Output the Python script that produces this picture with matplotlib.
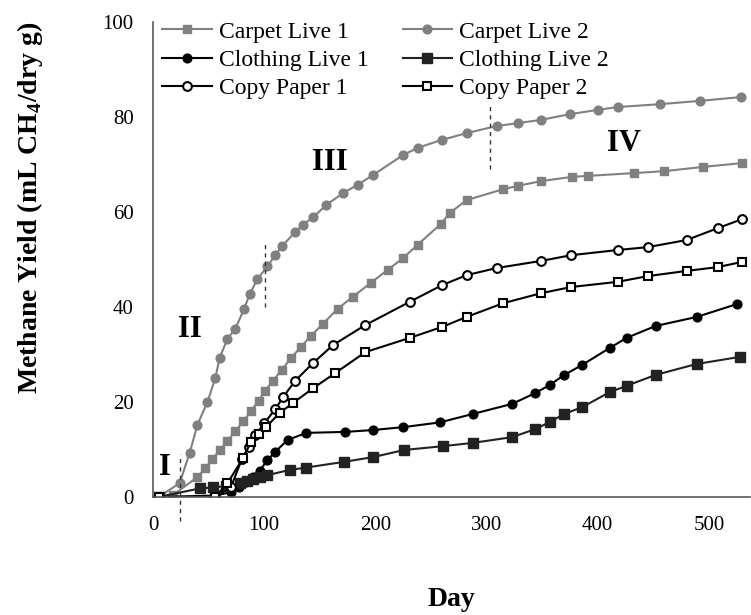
import matplotlib
matplotlib.use("Agg")
import matplotlib.pyplot as plt

OUTPUT_IMAGE_FILE = "out.png"

# Sampling days and cumulative methane yield (mL CH4 / dry g) per reactor
carpet1_day = [5, 18, 40, 47, 53, 60, 67, 74, 81, 88, 95, 101, 108, 116, 124, 133, 142, 153, 166,
               180, 196, 211, 225, 238, 259, 267, 282, 315, 328, 349, 377, 391, 433, 460, 495, 530]
carpet1_val = [0, 0.4, 4.2, 6.0, 7.9, 9.8, 11.8, 13.8, 15.9, 18.0, 20.3, 22.4, 24.5, 26.8, 29.2, 31.6,
               33.9, 36.5, 39.6, 42.2, 45.1, 47.8, 50.3, 53.1, 57.5, 59.8, 62.5, 64.8, 65.5, 66.5,
               67.4, 67.6, 68.2, 68.6, 69.5, 70.3]

carpet2_day = [5, 24, 33, 40, 49, 56, 60, 67, 74, 82, 87, 94, 103, 110, 116, 128, 135, 144, 156, 171,
               184, 198, 225, 238, 260, 282, 309, 328, 349, 375, 400, 418, 456, 492, 529]
carpet2_val = [0, 2.9, 9.3, 15.2, 20.0, 25.0, 29.3, 33.3, 35.4, 39.6, 42.7, 45.9, 48.6, 50.9, 52.8,
               55.8, 57.3, 58.9, 61.5, 64.0, 65.7, 67.8, 72.0, 73.5, 75.2, 76.6, 78.1, 78.7, 79.4,
               80.6, 81.5, 82.1, 82.7, 83.4, 84.2]

clothing1_day = [5, 56, 70, 77, 84, 90, 96, 103, 110, 121, 138, 173, 198, 225, 258, 288, 323, 344,
                 357, 370, 386, 411, 426, 452, 489, 525]
clothing1_val = [0, 0.3, 1.0, 2.2, 3.2, 4.2, 5.5, 7.8, 9.5, 12.0, 13.5, 13.7, 14.1, 14.7, 15.7, 17.5,
                 19.6, 21.9, 23.6, 25.7, 27.8, 31.4, 33.5, 36.0, 37.9, 40.6]

clothing2_day = [5, 42, 54, 66, 78, 85, 90, 96, 103, 123, 138, 172, 198, 226, 261, 288, 323, 344,
                 357, 370, 386, 411, 426, 452, 489, 528]
clothing2_val = [0, 1.8, 2.0, 2.3, 3.0, 3.4, 3.8, 4.2, 4.6, 5.7, 6.2, 7.4, 8.4, 9.9, 10.7, 11.4,
                 12.6, 14.3, 15.8, 17.5, 18.9, 22.1, 23.4, 25.7, 28.0, 29.5]

paper1_day = [5, 56, 70, 80, 86, 92, 100, 110, 117, 128, 144, 162, 191, 231, 260, 282, 309, 349,
              376, 418, 445, 480, 508, 530]
paper1_val = [0, 0, 2.0, 8.0, 10.5, 13.0, 15.5, 18.5, 21.0, 24.5, 28.2, 32.0, 36.2, 41.1, 44.6,
              46.7, 48.2, 49.7, 50.9, 52.0, 52.6, 54.1, 56.6, 58.5]

paper2_day = [5, 56, 67, 81, 88, 95, 102, 114, 126, 144, 164, 191, 231, 260, 282, 315, 349, 376,
              418, 445, 480, 508, 530]
paper2_val = [0, 0, 2.9, 8.2, 11.5, 13.2, 14.8, 17.7, 19.8, 22.9, 26.1, 30.5, 33.5, 35.8, 37.9,
              40.8, 42.9, 44.2, 45.3, 46.5, 47.6, 48.4, 49.5]

# Phase boundaries (day, y from, y to) and phase labels (text, day, y)
phase_day = [24, 101, 303]
phase_lo = [-5, 40, 69]
phase_hi = [9, 53.5, 82.5]
phase_names = ["I", "II", "III", "IV"]
phase_x = [11, 33, 159, 424]
phase_y = [6.2, 35.2, 70.5, 74.5]


def main():
    plt.rcParams['font.family'] = ['Liberation Serif', 'DejaVu Serif']
    plt.rcParams['mathtext.fontset'] = 'custom'
    plt.rcParams['mathtext.rm'] = 'Liberation Serif:bold'
    plt.rcParams['mathtext.bf'] = 'Liberation Serif:bold'

    fig = plt.figure(figsize=(7.51, 6.15), dpi=100)
    ax = fig.add_axes([0.2037, 0.1919, 0.795, 0.7723])

    gray = '#808080'
    ms = 6.3
    # 1. the six reactor curves
    l1, = ax.plot(carpet1_day, carpet1_val, color=gray, lw=1.5, marker='s', ms=ms,
                  mfc=gray, mec=gray, label='Carpet Live 1')
    l2, = ax.plot(carpet2_day, carpet2_val, color=gray, lw=1.5, marker='o', ms=ms,
                  mfc=gray, mec=gray, label='Carpet Live 2')
    l3, = ax.plot(clothing1_day, clothing1_val, color='black', lw=1.5, marker='o', ms=ms,
                  mfc='black', mec='black', label='Clothing Live 1')
    l4, = ax.plot(clothing2_day, clothing2_val, color='#222222', lw=1.5, marker='s', ms=ms + 0.8,
                  mfc='#222222', mec='#222222', label='Clothing Live 2')
    l5, = ax.plot(paper1_day, paper1_val, color='black', lw=1.5, marker='o', ms=ms,
                  mfc='white', mec='black', mew=1.5, label='Copy Paper 1')
    l6, = ax.plot(paper2_day, paper2_val, color='black', lw=1.5, marker='s', ms=ms,
                  mfc='white', mec='black', mew=1.5, label='Copy Paper 2')

    # 2. phase separators and roman numerals
    for d, lo, hi in zip(phase_day, phase_lo, phase_hi):
        ax.plot([d, d], [lo, hi], color='#333333', lw=1, ls=(0, (3, 3)), clip_on=False)
    for name, x, y in zip(phase_names, phase_x, phase_y):
        ax.text(x, y, name, fontsize=22, fontweight='bold', ha='center', va='center')

    # 3. axes styling
    ax.set_xlim(0, 537)
    ax.set_ylim(0, 100)
    ax.set_xticks([0, 100, 200, 300, 400, 500])
    ax.set_yticks([0, 20, 40, 60, 80, 100])
    ax.tick_params(length=0, labelsize=15)
    ax.tick_params(axis='x', pad=14)
    ax.tick_params(axis='y', pad=14)
    for side in ['top', 'right']:
        ax.spines[side].set_visible(False)
    for side in ['left', 'bottom']:
        ax.spines[side].set_color('#595959')
        ax.spines[side].set_linewidth(1.2)

    ax.set_xlabel('Day', fontsize=20, fontweight='bold', labelpad=37)
    ax.set_ylabel('Methane Yield (mL CH$_4$/dry g)', fontsize=20, fontweight='bold')
    ax.yaxis.set_label_coords(-0.181, 0.608)

    # legend is filled column by column
    ax.legend(handles=[l1, l3, l5, l2, l4, l6], ncol=2, loc='upper left',
              bbox_to_anchor=(0.015, 1.002), frameon=False,
              prop={'family': 'Liberation Serif', 'size': 17},
              handlelength=2.1, handletextpad=0.3, columnspacing=1.45,
              labelspacing=0.29, borderpad=0.0, borderaxespad=0.0)

    fig.savefig(OUTPUT_IMAGE_FILE, dpi=100)


if __name__ == "__main__":
    main()
